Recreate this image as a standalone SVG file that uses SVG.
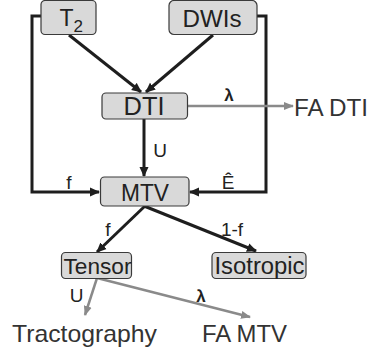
<svg xmlns="http://www.w3.org/2000/svg" width="369" height="356" viewBox="0 0 369 356">
<style>
.box{fill:#d9d9d9;stroke:#3a3a3a;stroke-width:1.2}
.t{font-family:"Liberation Sans",Arial,sans-serif;fill:#222}
.bl{font-size:24px;text-anchor:middle}
.lab{font-size:19px;text-anchor:middle}
.out{font-size:24px;fill:#333}
.k{fill:none;stroke:#1e1e1e;stroke-width:3}
.g{fill:none;stroke:#8a8a8a;stroke-width:2.5}
.lam{font-size:17px;font-weight:bold;text-anchor:middle}
</style>
<defs>
<marker id="ak" markerWidth="10" markerHeight="10" viewBox="0 0 10 10" refX="9" refY="5" orient="auto" markerUnits="userSpaceOnUse">
<path d="M0,0.5 L10,5 L0,9.5 Z" fill="#1e1e1e"/>
</marker>
<marker id="ag" markerWidth="10" markerHeight="10" viewBox="0 0 10 10" refX="9" refY="5" orient="auto" markerUnits="userSpaceOnUse">
<path d="M0,1 L10,5 L0,9 Z" fill="#8a8a8a"/>
</marker>
</defs>
<g id="connectors">
<path class="k" d="M41,16 H32 V192 H99" marker-end="url(#ak)"/>
<path class="k" d="M257,16 H266 V192 H190" marker-end="url(#ak)"/>
<line class="k" x1="69" y1="35" x2="141" y2="92" marker-end="url(#ak)"/>
<line class="k" x1="213" y1="35" x2="146" y2="92" marker-end="url(#ak)"/>
<line class="k" x1="144" y1="119" x2="144" y2="176" marker-end="url(#ak)"/>
<line class="k" x1="145" y1="206" x2="97" y2="252" marker-end="url(#ak)"/>
<line class="k" x1="144" y1="206" x2="256" y2="251" marker-end="url(#ak)"/>
<line class="g" x1="188" y1="106" x2="293" y2="106" marker-end="url(#ag)"/>
<line class="g" x1="97" y1="278" x2="85" y2="315" marker-end="url(#ag)"/>
<line class="g" x1="97" y1="278" x2="250" y2="317" marker-end="url(#ag)"/>
<text class="t lam" x="229" y="101">λ</text>
<text class="t lab" x="160" y="156.5">U</text>
<text class="t lab" x="69" y="188.5">f</text>
<text class="t lab" x="228" y="188.5">Ê</text>
<text class="t lab" x="108" y="235.5">f</text>
<text class="t lab" x="232" y="235.5">1-f</text>
<text class="t lab" x="76.5" y="302">U</text>
<text class="t lam" x="201" y="302">λ</text>
</g>
<g id="T2">
<rect class="box" x="41" y="0.5" width="55" height="34" rx="4"/>
<text class="t" x="59.5" y="26" style="font-size:23px">T<tspan font-size="17" dy="6">2</tspan></text>
</g>
<g id="DWIs">
<rect class="box" x="169" y="0.5" width="88" height="34" rx="5"/>
<text class="t bl" x="212" y="27" textLength="59" lengthAdjust="spacingAndGlyphs" style="font-size:23px">DWIs</text>
</g>
<g id="DTI">
<rect class="box" x="102" y="93" width="85.5" height="26" rx="4"/>
<text class="t bl" x="144" y="115" textLength="41" lengthAdjust="spacingAndGlyphs" style="font-size:25px">DTI</text>
</g>
<g id="FADTI">
<text class="t out" x="294" y="116" textLength="74" lengthAdjust="spacingAndGlyphs">FA DTI</text>
</g>
<g id="MTV">
<rect class="box" x="100.5" y="177" width="88.5" height="29" rx="4"/>
<text class="t bl" x="145" y="201" textLength="48" lengthAdjust="spacingAndGlyphs">MTV</text>
</g>
<g id="Tensor">
<rect class="box" x="61.5" y="252.5" width="70" height="26" rx="4"/>
<text class="t bl" x="97.5" y="273.5" textLength="68" lengthAdjust="spacingAndGlyphs" style="font-size:22px">Tensor</text>
</g>
<g id="Isotropic">
<rect class="box" x="212" y="252.5" width="94" height="26" rx="4"/>
<text class="t bl" x="259.5" y="273.5" textLength="90" lengthAdjust="spacingAndGlyphs" style="font-size:23px">Isotropic</text>
</g>
<g id="Tractography">
<text class="t out" x="12" y="342" textLength="145" lengthAdjust="spacingAndGlyphs">Tractography</text>
</g>
<g id="FAMTV">
<text class="t out" x="202" y="342" textLength="85" lengthAdjust="spacingAndGlyphs">FA MTV</text>
</g>
</svg>
